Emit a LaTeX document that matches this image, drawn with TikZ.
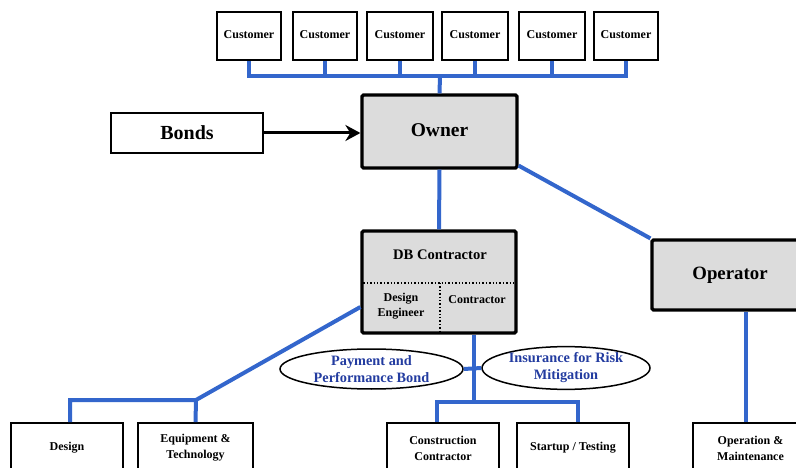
\documentclass[tikz,border=0pt]{standalone}
\usepackage{fontspec}
\setmainfont{Liberation Serif}
\usetikzlibrary{arrows.meta,shapes.geometric}
\definecolor{linkblue}{RGB}{51,102,204}
\definecolor{notetext}{RGB}{35,60,160}
\definecolor{boxgray}{RGB}{220,220,220}
\tikzset{
  custbox/.style={draw, line width=1.8pt, fill=white, minimum width=64pt, minimum height=48pt, inner sep=0pt,
    font=\fontsize{12}{14}\selectfont\bfseries},
  mainbox/.style={draw, line width=3.2pt, fill=boxgray, rounded corners=1.5pt, inner sep=0pt},
  leafbox/.style={draw, line width=1.8pt, fill=white, minimum height=50pt, inner sep=0pt, align=center,
    font=\fontsize{12}{16}\selectfont\bfseries},
  note/.style={draw, ellipse, line width=1.5pt, fill=white, inner sep=0pt, align=center, text=notetext,
    minimum height=40pt, font=\fontsize{14.3}{17}\selectfont\bfseries},
  bus/.style={draw=linkblue, line width=4pt}
}
\begin{document}
\begin{tikzpicture}[x=1pt,y=-1pt]
  \useasboundingbox (0,0) rectangle (796,468);
  \clip (0,0) rectangle (796,468);
  % customers
  \node[custbox] (c1) at (249,36) {\raisebox{3pt}{Customer}};
  \node[custbox] (c2) at (325,36) {\raisebox{2pt}{Customer}};
  \node[custbox, minimum width=66pt] (c3) at (400,36) {\raisebox{2pt}{Customer}};
  \node[custbox, minimum width=66pt] (c4) at (475,36) {\raisebox{2pt}{Customer}};
  \node[custbox, minimum width=66pt] (c5) at (552,36) {\raisebox{2pt}{Customer}};
  \node[custbox] (c6) at (626,36) {\raisebox{2pt}{Customer}};
  % main parties
  \node[mainbox, minimum width=155pt, minimum height=73pt, font=\fontsize{19.5}{22}\selectfont\bfseries] (owner) at (439.5,131.5) {\raisebox{3pt}{Owner}};
  \node[draw, line width=1.8pt, fill=white, minimum width=152pt, minimum height=40pt, inner sep=0pt,
    font=\fontsize{20}{22}\selectfont\bfseries] (bonds) at (187,133) {Bonds};
  \node[mainbox, minimum width=154pt, minimum height=102pt] (db) at (439,282) {};
  \node[mainbox, minimum width=156pt, minimum height=70pt, font=\fontsize{18.8}{22}\selectfont\bfseries] (op) at (730,275) {Operator};
  \node[font=\fontsize{14.6}{17}\selectfont\bfseries] (dbt) at (440,255) {DB Contractor};
  \node[align=center, font=\fontsize{12}{14.5}\selectfont\bfseries] (eng) at (401,306) {Design\\Engineer};
  \node[font=\fontsize{12}{14}\selectfont\bfseries] (con) at (477,300) {Contractor};
  % leaves
  \node[leafbox, minimum width=112pt] (design) at (67,448) {\raisebox{-2pt}{Design}};
  \node[leafbox, minimum width=115pt] (equip) at (195.5,448) {Equipment \&\\Technology};
  \node[leafbox, minimum width=112pt] (cons) at (443,448) {Construction\\Contractor};
  \node[leafbox, minimum width=112pt] (start) at (573,448) {\raisebox{-2pt}{Startup / Testing}};
  \node[leafbox, minimum width=115pt] (om) at (750.5,448) {Operation \&\\Maintenance};
  % risk notes
  \node[note, minimum width=183pt] (pay) at (371.5,369) {Payment and\\Performance Bond};
  \node[note, minimum width=168pt] (ins) at (566,368) {Insurance for Risk\\Mitigation};
  % junctions
  \coordinate (cbus) at (440,76);
  \coordinate (dbus) at (196,400);
  \coordinate (sbus) at (474,402);
  \begin{scope}[bus]
    \draw (c1.south) -- (c1.south |- cbus) -- (c6.south |- cbus) -- (c6.south);
    \draw (c2.south) -- (c2.south |- cbus);
    \draw (c3.south) -- (c3.south |- cbus);
    \draw (c4.south) -- (c4.south |- cbus);
    \draw (c5.south) -- (c5.south |- cbus);
    \draw (cbus) -- (owner.north);
    \draw (owner.south) -- (db.north);
    \draw ([yshift=4pt]owner.south east) -- (op.north west);
    \draw ([xshift=-5pt]om.north) -- ([xshift=-5pt]om.north |- op.south);
    \draw (db.west |- 0,307) -- (dbus) -| ([xshift=3pt]design.north);
    \draw (dbus) -- (equip.north);
    \draw (sbus |- db.south) -- (sbus);
    \draw (pay.east) -- (ins.west);
    \draw ([xshift=-6pt]cons.north) |- (sbus) -| ([xshift=5pt]start.north);
  \end{scope}
  % bonds to owner
  \draw[line width=3pt, -{Stealth[length=15pt,width=16pt]}] (bonds.east) -- (bonds.east -| owner.west);
  % dotted split of the DB box
  \draw[dotted, line width=1.4pt] ([xshift=3pt]db.west |- 0,283) -- ([xshift=-3pt]db.east |- 0,283);
  \draw[dotted, line width=1.4pt] (440,283) -- ([yshift=3pt]db.south -| 440,0);
\end{tikzpicture}
\end{document}
